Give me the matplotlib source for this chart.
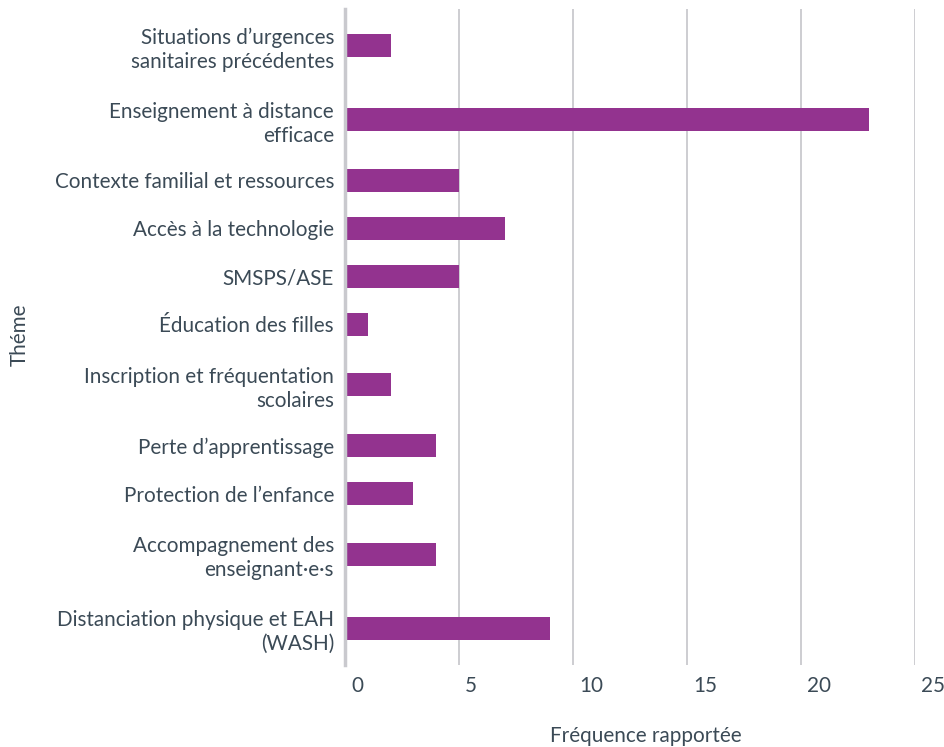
import matplotlib
matplotlib.use("Agg")
import matplotlib.pyplot as plt
import matplotlib.transforms as mtransforms
import numpy as np

categories = [
    "Situations d\u2019urgences\nsanitaires précédentes",
    "Enseignement à distance\nefficace",
    "Contexte familial et ressources",
    "Accès à la technologie",
    "SMSPS/ASE",
    "Éducation des filles",
    "Inscription et fréquentation\nscolaires",
    "Perte d\u2019apprentissage",
    "Protection de l\u2019enfance",
    "Accompagnement des\nenseignant\u00b7e\u00b7s",
    "Distanciation physique et EAH\n(WASH)",
]
values = [2, 23, 5, 7, 5, 1, 2, 4, 3, 4, 9]
xticks = [0, 5, 10, 15, 20, 25]

TEXT = "#3b4a56"
BAR = "#93338f"
GRID = "#c9c9ce"
FS = 14.9

plt.rcParams['font.family'] = ['Lato', 'DejaVu Sans']

fig = plt.figure(figsize=(9.44, 7.47), dpi=100)
ax = fig.add_axes([345/944, 1 - 665/747, (915-345)/944, (665-9)/747])

# band heights depend on number of label lines
band = np.array([1.0 if "\n" not in c else 74/48 for c in categories])
edges = np.concatenate([[0], np.cumsum(band)])
centers = (edges[:-1] + edges[1:]) / 2

ax.barh(centers, values, height=23/48, color=BAR, zorder=3)
ax.set_ylim(edges[-1], 0)
ax.set_xlim(0, 25)

ax.set_yticks(centers)
ax.set_yticklabels(categories, fontsize=FS, color=TEXT, ha='right', linespacing=1.25)
ax.tick_params(axis='y', length=0, pad=8)

ax.set_xticks(xticks)
ax.set_xticklabels([str(t) for t in xticks], fontsize=FS, color=TEXT, ha='left')
ax.tick_params(axis='x', length=0, pad=8)
offset = mtransforms.ScaledTranslation(6/100, 0, fig.dpi_scale_trans)
for lab in ax.get_xticklabels():
    lab.set_transform(lab.get_transform() + offset)

ax.grid(axis='x', color=GRID, linewidth=1.3, zorder=0)
ax.grid(axis='y', visible=False)
for s in ['top', 'right', 'bottom']:
    ax.spines[s].set_visible(False)
ax.spines['left'].set_color(GRID)
ax.spines['left'].set_linewidth(2.5)
ax.spines['left'].set_zorder(4)

fig.text(646/944, 1 - 736/747, "Fréquence rapportée", fontsize=FS, color=TEXT,
         ha='center', va='center')
fig.text(20/944, 1 - 335/747, "Théme", fontsize=FS, color=TEXT,
         ha='center', va='center', rotation=90)

fig.savefig("out.png", dpi=100)
